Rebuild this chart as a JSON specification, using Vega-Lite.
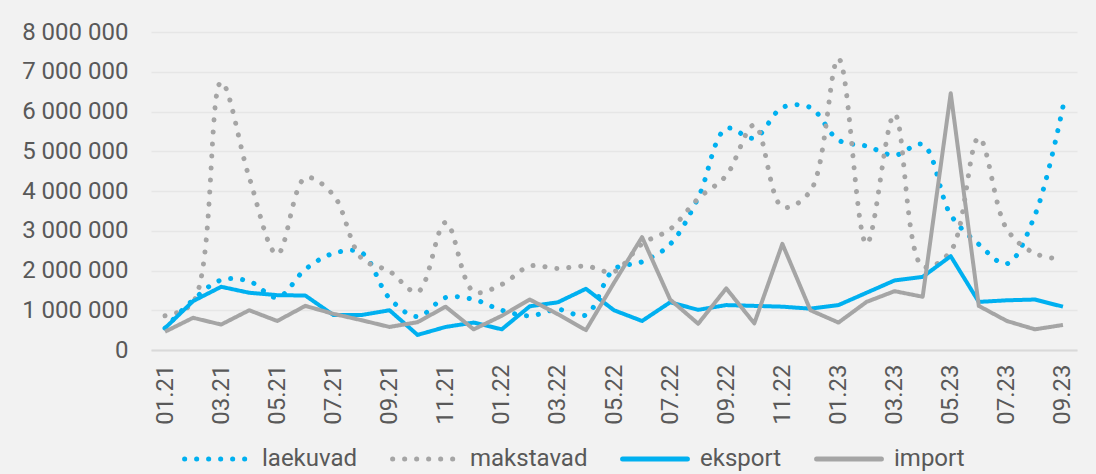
{
  "$schema": "https://vega.github.io/schema/vega-lite/v6.json",
  "autosize": {"type": "none"},
  "width": 926,
  "height": 318,
  "padding": {"left": 151, "top": 32, "right": 19, "bottom": 124},
  "background": "#F2F2F2",
  "config": {
    "view": {"stroke": null},
    "font": "Roboto",
    "locale": {"number": {"decimal": ",", "thousands": "\u00a0", "grouping": [3], "currency": ["", ""]}}
  },
  "data": {"values": [
    {"m": "01.21", "laekuvad": 550000, "makstavad": 860000, "eksport": 550000, "import": 460000},
    {"m": "02.21", "laekuvad": 1260000, "makstavad": 1200000, "eksport": 1230000, "import": 810000},
    {"m": "03.21", "laekuvad": 1760000, "makstavad": 6740000, "eksport": 1590000, "import": 640000},
    {"m": "04.21", "laekuvad": 1730000, "makstavad": 4340000, "eksport": 1440000, "import": 1000000},
    {"m": "05.21", "laekuvad": 1320000, "makstavad": 2410000, "eksport": 1380000, "import": 730000},
    {"m": "06.21", "laekuvad": 2030000, "makstavad": 4330000, "eksport": 1370000, "import": 1110000},
    {"m": "07.21", "laekuvad": 2430000, "makstavad": 3900000, "eksport": 880000, "import": 910000},
    {"m": "08.21", "laekuvad": 2450000, "makstavad": 2310000, "eksport": 880000, "import": 750000},
    {"m": "09.21", "laekuvad": 1300000, "makstavad": 1980000, "eksport": 1000000, "import": 580000},
    {"m": "10.21", "laekuvad": 840000, "makstavad": 1460000, "eksport": 380000, "import": 700000},
    {"m": "11.21", "laekuvad": 1320000, "makstavad": 3210000, "eksport": 580000, "import": 1090000},
    {"m": "12.21", "laekuvad": 1270000, "makstavad": 1470000, "eksport": 690000, "import": 520000},
    {"m": "01.22", "laekuvad": 1000000, "makstavad": 1650000, "eksport": 520000, "import": 860000},
    {"m": "02.22", "laekuvad": 860000, "makstavad": 2110000, "eksport": 1100000, "import": 1270000},
    {"m": "03.22", "laekuvad": 1020000, "makstavad": 2050000, "eksport": 1200000, "import": 900000},
    {"m": "04.22", "laekuvad": 880000, "makstavad": 2110000, "eksport": 1540000, "import": 500000},
    {"m": "05.22", "laekuvad": 2030000, "makstavad": 1970000, "eksport": 1000000, "import": 1690000},
    {"m": "06.22", "laekuvad": 2220000, "makstavad": 2670000, "eksport": 730000, "import": 2840000},
    {"m": "07.22", "laekuvad": 2660000, "makstavad": 3040000, "eksport": 1200000, "import": 1270000},
    {"m": "08.22", "laekuvad": 3830000, "makstavad": 3810000, "eksport": 1010000, "import": 660000},
    {"m": "09.22", "laekuvad": 5570000, "makstavad": 4390000, "eksport": 1130000, "import": 1550000},
    {"m": "10.22", "laekuvad": 5330000, "makstavad": 5660000, "eksport": 1110000, "import": 670000},
    {"m": "11.22", "laekuvad": 6100000, "makstavad": 3600000, "eksport": 1090000, "import": 2670000},
    {"m": "12.22", "laekuvad": 6100000, "makstavad": 4000000, "eksport": 1040000, "import": 1000000},
    {"m": "01.23", "laekuvad": 5280000, "makstavad": 7330000, "eksport": 1130000, "import": 690000},
    {"m": "02.23", "laekuvad": 5130000, "makstavad": 2670000, "eksport": 1440000, "import": 1210000},
    {"m": "03.23", "laekuvad": 4900000, "makstavad": 5930000, "eksport": 1750000, "import": 1480000},
    {"m": "04.23", "laekuvad": 5170000, "makstavad": 2100000, "eksport": 1840000, "import": 1340000},
    {"m": "05.23", "laekuvad": 3400000, "makstavad": 2490000, "eksport": 2360000, "import": 6460000},
    {"m": "06.23", "laekuvad": 2660000, "makstavad": 5340000, "eksport": 1210000, "import": 1110000},
    {"m": "07.23", "laekuvad": 2170000, "makstavad": 3040000, "eksport": 1250000, "import": 730000},
    {"m": "08.23", "laekuvad": 3390000, "makstavad": 2430000, "eksport": 1270000, "import": 520000},
    {"m": "09.23", "laekuvad": 6120000, "makstavad": 2280000, "eksport": 1090000, "import": 630000}
  ]},
  "transform": [
    {"fold": ["laekuvad", "makstavad", "eksport", "import"], "as": ["s", "v"]}
  ],
  "encoding": {
    "x": {
      "field": "m", "type": "ordinal", "sort": null,
      "scale": {"type": "point", "padding": 0.5},
      "axis": {
        "title": null,
        "values": ["01.21","03.21","05.21","07.21","09.21","11.21","01.22","03.22","05.22","07.22","09.22","11.22","01.23","03.23","05.23","07.23","09.23"],
        "labelAngle": -90,
        "labelFontSize": 24,
        "labelColor": "#595959",
        "labelPadding": 14,
        "ticks": false,
        "grid": false,
        "domainColor": "#D9D9D9",
        "domainWidth": 2
      }
    },
    "y": {
      "field": "v", "type": "quantitative",
      "scale": {"domain": [0, 8000000], "nice": false},
      "axis": {
        "title": null,
        "values": [0, 1000000, 2000000, 3000000, 4000000, 5000000, 6000000, 7000000, 8000000],
        "format": ",d",
        "labelFontSize": 24,
        "labelColor": "#595959",
        "labelPadding": 23,
        "ticks": false,
        "domain": false,
        "grid": true,
        "gridColor": "#E6E6E6",
        "gridWidth": 1.5
      }
    },
    "color": {
      "field": "s", "type": "nominal",
      "scale": {"domain": ["laekuvad", "makstavad", "eksport", "import"], "range": ["#00B0F0", "#A5A5A5", "#00B0F0", "#A5A5A5"]},
      "legend": {
        "title": null, "orient": "none", "direction": "horizontal",
        "legendX": 31, "legendY": 392,
        "symbolType": "stroke", "symbolSize": 4200, "symbolStrokeWidth": 5,
        "labelFontSize": 24, "labelColor": "#595959", "labelOffset": 10,
        "columnPadding": 24,
        "encode": {"symbols": {"update": {"strokeCap": {"value": "round"}}}}
      }
    },
    "strokeDash": {
      "field": "s", "type": "nominal",
      "scale": {"domain": ["laekuvad", "makstavad", "eksport", "import"], "range": [[0.1, 11.9], [0.1, 11.9], [1, 0], [1, 0]]},
      "legend": {
        "title": null, "orient": "none", "direction": "horizontal",
        "legendX": 31, "legendY": 392,
        "symbolType": "stroke", "symbolSize": 4200, "symbolStrokeWidth": 5,
        "labelFontSize": 24, "labelColor": "#595959", "labelOffset": 10,
        "columnPadding": 24,
        "encode": {"symbols": {"update": {"strokeCap": {"value": "round"}}}}
      }
    }
  },
  "layer": [
    {
      "transform": [{"filter": {"field": "s", "oneOf": ["laekuvad", "makstavad"]}}],
      "mark": {"type": "line", "interpolate": "catmull-rom", "strokeWidth": 5, "strokeCap": "round"}
    },
    {
      "transform": [{"filter": {"field": "s", "oneOf": ["eksport", "import"]}}],
      "mark": {"type": "line", "strokeWidth": 4, "strokeJoin": "round"}
    }
  ]
}
